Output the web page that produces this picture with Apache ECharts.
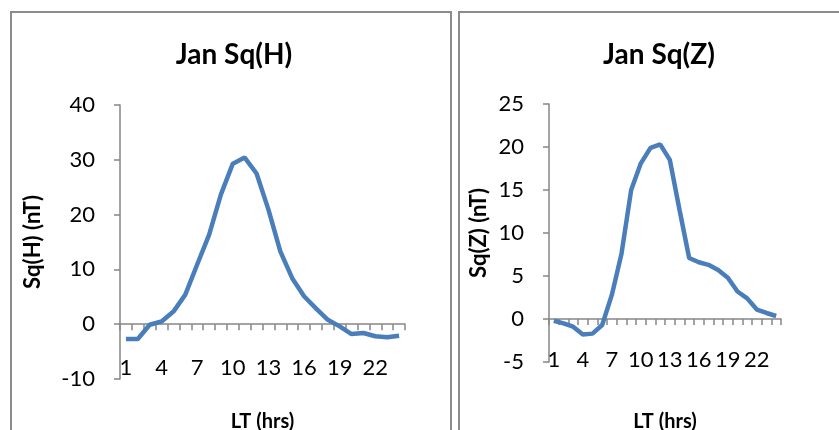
<!DOCTYPE html>
<html>
<head>
<meta charset="utf-8">
<script src="https://cdn.jsdelivr.net/npm/echarts@6/dist/echarts.min.js"></script>
<style>
  html, body { margin: 0; padding: 0; background: #fff; }
  #main { width: 839px; height: 430px; }
</style>
</head>
<body>
<div id="main"></div>
<script>
// local time, hours 1..24
var hours = ['1','2','3','4','5','6','7','8','9','10','11','12','13','14','15','16','17','18','19','20','21','22','23','24'];
// January Sq(H), nT
var sqH = [-2.7, -2.7, -0.1, 0.5, 2.3, 5.4, 10.9, 16.3, 23.7, 29.3, 30.4, 27.5,
           20.9, 13.3, 8.4, 5.1, 2.9, 0.8, -0.4, -1.8, -1.6, -2.2, -2.4, -2.1];
// January Sq(Z), nT
var sqZ = [-0.2, -0.5, -0.9, -1.8, -1.7, -0.7, 2.8, 7.6, 15.0, 18.1, 19.9, 20.3,
           18.5, 12.7, 7.1, 6.6, 6.3, 5.7, 4.8, 3.2, 2.4, 1.1, 0.7, 0.35];

var FONT = 'Lato';
var axisGrey = '#868686';
var lineBlue = '#4a7ebb';

// labels and name are laid out from the bottom of the grid, the line sits on zero
function xAx(idx, gap, margin) {
  return {
    type: 'category',
    gridIndex: idx,
    data: hours,
    boundaryGap: true,
    name: 'LT (hrs)',
    nameLocation: 'middle',
    nameGap: gap,
    nameTextStyle: { fontFamily: FONT, fontWeight: 'bold', fontSize: 20, color: '#000' },
    axisLine: { onZero: true, lineStyle: { color: axisGrey, width: 1.5 } },
    axisTick: { show: true, interval: 0, length: 6, lineStyle: { color: axisGrey, width: 1.5 } },
    axisLabel: { interval: 2, margin: margin, fontFamily: FONT, fontSize: 22, color: '#000' },
    splitLine: { show: false }
  };
}

function yAx(idx, min, max, step, name, gap) {
  return {
    type: 'value',
    gridIndex: idx,
    min: min,
    max: max,
    interval: step,
    name: name,
    nameLocation: 'middle',
    nameGap: gap,
    nameTextStyle: { fontFamily: FONT, fontWeight: 'bold', fontSize: 22, color: '#000' },
    axisLine: { show: true, onZero: false, lineStyle: { color: axisGrey, width: 1.5 } },
    axisTick: { show: true, length: 6, lineStyle: { color: axisGrey, width: 1.5 } },
    axisLabel: { margin: 25, fontFamily: FONT, fontSize: 22, color: '#000' },
    splitLine: { show: false }
  };
}

var chart = echarts.init(document.getElementById('main'), null, { renderer: 'canvas' });
chart.setOption({
  backgroundColor: '#fff',
  animation: false,
  title: [{
    text: 'Jan Sq(H)', left: 229, top: 36, textAlign: 'center',
    textStyle: { fontFamily: FONT, fontWeight: 'bold', fontSize: 28, color: '#000' }
  }, {
    text: 'Jan Sq(Z)', left: 654, top: 36, textAlign: 'center',
    textStyle: { fontFamily: FONT, fontWeight: 'bold', fontSize: 28, color: '#000' }
  }],
  graphic: [{
    type: 'rect', shape: { x: 11, y: 12, width: 440, height: 440 },
    style: { fill: 'none', stroke: '#8c8c8c', lineWidth: 2 }, z: -1
  }, {
    type: 'rect', shape: { x: 459, y: 12, width: 420, height: 440 },
    style: { fill: 'none', stroke: '#8c8c8c', lineWidth: 2 }, z: -1
  }],
  grid: [
    { left: 120, right: 434, top: 105, bottom: 51, outerBoundsMode: 'none', containLabel: false },
    { left: 549, right: 58, top: 104, bottom: 68, outerBoundsMode: 'none', containLabel: false }
  ],
  xAxis: [xAx(0, 33, -22), xAx(1, 50, -13)],
  yAxis: [
    yAx(0, -10, 40, 10, 'Sq(H) (nT)', 76),
    yAx(1, -5, 25, 5, 'Sq(Z) (nT)', 59)
  ],
  series: [{
    type: 'line', xAxisIndex: 0, yAxisIndex: 0, data: sqH,
    showSymbol: false, lineStyle: { color: lineBlue, width: 4.5 }, itemStyle: { color: lineBlue }
  }, {
    type: 'line', xAxisIndex: 1, yAxisIndex: 1, data: sqZ,
    showSymbol: false, lineStyle: { color: lineBlue, width: 4.5 }, itemStyle: { color: lineBlue }
  }]
});
</script>
</body>
</html>
